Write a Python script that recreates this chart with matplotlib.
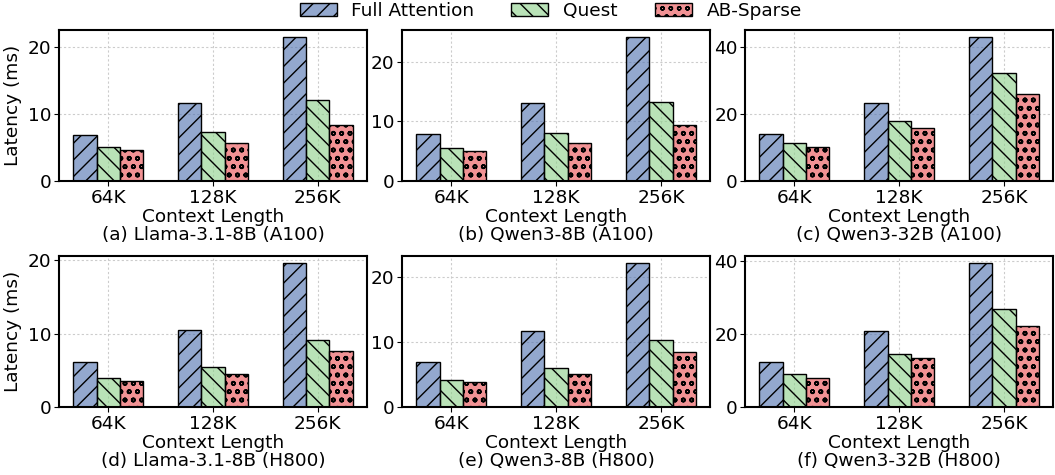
import numpy as np
import matplotlib
matplotlib.use('Agg')
import matplotlib.pyplot as plt
from matplotlib.colors import to_rgba
from matplotlib.patches import Patch
from matplotlib.ticker import MultipleLocator

contexts = ['64K', '128K', '256K']
methods = ['Full Attention', 'Quest', 'AB-Sparse']

titles = ['(a) Llama-3.1-8B (A100)', '(b) Qwen3-8B (A100)', '(c) Qwen3-32B (A100)',
          '(d) Llama-3.1-8B (H800)', '(e) Qwen3-8B (H800)', '(f) Qwen3-32B (H800)']

# latency (ms) per panel: [full attention, quest, ab-sparse] x [64K, 128K, 256K]
llama_a100 = [[6.9, 11.6, 21.4], [5.0, 7.25, 12.1], [4.6, 5.6, 8.35]]
qwen8_a100 = [[7.8, 13.0, 24.1], [5.6, 8.0, 13.2], [5.1, 6.3, 9.3]]
qwen32_a100 = [[13.9, 23.1, 42.8], [11.2, 17.9, 32.1], [10.0, 15.9, 25.8]]
llama_h800 = [[6.1, 10.5, 19.6], [3.9, 5.5, 9.2], [3.55, 4.45, 7.65]]
qwen8_h800 = [[6.9, 11.7, 22.2], [4.2, 6.1, 10.3], [3.9, 5.05, 8.45]]
qwen32_h800 = [[12.2, 20.8, 39.3], [9.1, 14.6, 26.8], [7.9, 13.3, 22.1]]

panels = [llama_a100, qwen8_a100, qwen32_a100, llama_h800, qwen8_h800, qwen32_h800]
ytick_steps = [10, 10, 20, 10, 10, 20]

colors = ['#4c6fae', '#8bd088', '#e84a4d']
hatches = ['//', '\\\\', 'oo']
hatch_lw = [1.0, 1.0, 1.2]

plt.rcParams['font.size'] = 13.3

fig, axes = plt.subplots(2, 3, figsize=(10.55, 4.75), dpi=100)
fig.subplots_adjust(left=0.0562, right=0.998, top=0.937, bottom=0.143,
                    wspace=0.116, hspace=0.497)

x = np.arange(len(contexts))
width = 2 / 9

for i, ax in enumerate(axes.flat):
    data = panels[i]
    ax.grid(True, linestyle=(0, (2, 2)), color='#cccccc', linewidth=0.8)
    ax.set_axisbelow(True)
    for j in range(len(methods)):
        with plt.rc_context({'hatch.linewidth': hatch_lw[j]}):
            ax.bar(x + (j - 1) * width, data[j], width,
                   facecolor=to_rgba(colors[j], 0.6), edgecolor='black',
                   linewidth=1.0, hatch=hatches[j])
    ax.set_xticks(x)
    ax.set_xticklabels(contexts)
    ax.yaxis.set_major_locator(MultipleLocator(ytick_steps[i]))
    ax.set_xlabel('Context Length\n' + titles[i], labelpad=1, linespacing=1.0)
    if i % 3 == 0:
        ax.set_ylabel('Latency (ms)')
    for s in ax.spines.values():
        s.set_linewidth(1.5)
    ax.tick_params(pad=2)

handles = []
for j in range(len(methods)):
    with plt.rc_context({'hatch.linewidth': hatch_lw[j]}):
        handles.append(Patch(facecolor=to_rgba(colors[j], 0.6), edgecolor='black',
                             hatch=hatches[j], label=methods[j]))
fig.legend(handles=handles, loc='upper center', bbox_to_anchor=(0.522, 1.03),
           ncol=3, frameon=False, handletextpad=0.8, columnspacing=2.0)

fig.savefig('out.png', dpi=100)
